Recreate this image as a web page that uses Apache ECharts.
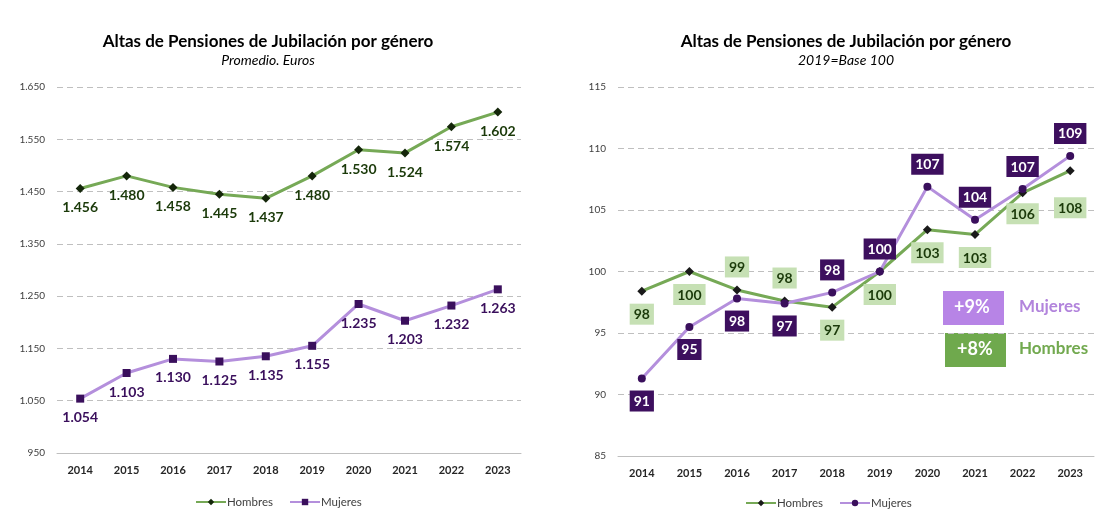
<!DOCTYPE html>
<html>
<head>
<meta charset="utf-8">
<script src="https://cdn.jsdelivr.net/npm/echarts@6/dist/echarts.min.js"></script>
<style>html,body{margin:0;padding:0;background:#fff}#c{width:1114px;height:525px}</style>
</head>
<body>
<div id="c"></div>
<script>
const years = ['2014','2015','2016','2017','2018','2019','2020','2021','2022','2023'];
const hombresEuros = [1456,1480,1458,1445,1437,1480,1530,1524,1574,1602];
const mujeresEuros = [1054,1103,1130,1125,1135,1155,1235,1203,1232,1263];
const hombresIndex = [98.4,100,98.5,97.6,97.1,100,103.4,103.0,106.4,108.2];
const mujeresIndex = [91.3,95.49,97.8,97.4,98.3,100,106.9,104.2,106.7,109.4];
const leftTicks = {min:950, max:1650, step:100};
const rightTicks = {min:85, max:115, step:5};
const titleText = 'Altas de Pensiones de Jubilación por género';
const subLeft = 'Promedio. Euros';
const subRight = '2019=Base 100';

const FONT = 'Lato, "Open Sans", sans-serif';
const GREEN = '#76a956', PURPLE = '#b48fdc';
const GREEN_DARK = '#1b3a0a', PURPLE_DARK = '#3a0f5c';
const fmt = v => String(v).replace(/\B(?=(\d{3})+(?!\d))/g, '.');

// label placement (style config, separate from data)
const hPos = ['bottom','bottom','top','top','bottom','bottom','bottom','bottom','bottom','bottom'];
const hDist = [8,8,8,8,8,8,8,8,6,22];
const mPos = ['bottom','bottom','bottom','bottom','top','top','top','top','top','top'];

const chart = echarts.init(document.getElementById('c'), null, {renderer:'canvas'});

const xAxisCommon = {
  type:'category', boundaryGap:true,
  axisLine:{show:true, lineStyle:{color:'#bfbfbf', width:1}},
  axisTick:{show:false},
  axisLabel:{color:'#262626', fontWeight:'bold', fontSize:11, fontFamily:FONT, margin:12}
};
const yAxisCommon = {
  type:'value',
  axisLine:{show:false}, axisTick:{show:false},
  splitLine:{show:true, lineStyle:{color:'#bfbfbf', type:[6,4], width:1}},
  axisLabel:{color:'#404040', fontSize:10, fontFamily:FONT, margin:12}
};
const titleStyle = {fontSize:17, fontWeight:'bold', color:'#000', fontFamily:FONT};
const subStyle = {fontSize:14, fontStyle:'italic', color:'#000', fontFamily:FONT};

chart.setOption({
  animation:false,
  backgroundColor:'#fff',
  title:[
    {text:titleText, subtext:subLeft, left:263, top:28, textAlign:'center', itemGap:3,
     textStyle:titleStyle, subtextStyle:subStyle},
    {text:titleText, subtext:subRight, left:841, top:28, textAlign:'center', itemGap:3,
     textStyle:titleStyle, subtextStyle:subStyle}
  ],
  legend:[
    {data:['Hombres','Mujeres'], left:190, top:491, itemWidth:30, itemHeight:8, itemGap:16,
     textStyle:{fontSize:11.5, color:'#404040', fontFamily:FONT, padding:[0,0,0,-4]}},
    {data:['Hombres ','Mujeres '], left:740, top:492, itemWidth:30, itemHeight:8, itemGap:16,
     formatter:n=>n.trim(),
     textStyle:{fontSize:11.5, color:'#404040', fontFamily:FONT, padding:[0,0,0,-4]}}
  ],
  grid:[
    {left:57, right:593, top:87, bottom:72},
    {left:618, right:20, top:87, bottom:69}
  ],
  xAxis:[
    Object.assign({gridIndex:0, data:years}, xAxisCommon),
    Object.assign({gridIndex:1, data:years}, xAxisCommon)
  ],
  yAxis:[
    Object.assign({gridIndex:0, min:leftTicks.min, max:leftTicks.max, interval:leftTicks.step}, yAxisCommon,
      {axisLabel:Object.assign({}, yAxisCommon.axisLabel, {formatter:fmt})}),
    Object.assign({gridIndex:1, min:rightTicks.min, max:rightTicks.max, interval:rightTicks.step}, yAxisCommon)
  ],
  series:[
    {name:'Hombres', type:'line', xAxisIndex:0, yAxisIndex:0, data:hombresEuros,
     symbol:'diamond', symbolSize:9, lineStyle:{color:GREEN, width:3},
     itemStyle:{color:'#14260a', borderWidth:0},
     label:{show:true, position:'bottom', distance:8, formatter:p=>fmt(p.value),
       color:GREEN_DARK, fontWeight:'bold', fontSize:14, fontFamily:FONT}},
    {name:'Mujeres', type:'line', xAxisIndex:0, yAxisIndex:0, data:mujeresEuros,
     symbol:'rect', symbolSize:8, lineStyle:{color:PURPLE, width:3},
     itemStyle:{color:PURPLE_DARK, borderWidth:0},
     label:{show:true, position:'bottom', distance:8, formatter:p=>fmt(p.value),
       color:PURPLE_DARK, fontWeight:'bold', fontSize:14, fontFamily:FONT}},
    {name:'Hombres ', type:'line', xAxisIndex:1, yAxisIndex:1,
     data:hombresIndex.map((v,i)=>({value:v, label:{position:hPos[i], distance:hDist[i]}})),
     symbol:'diamond', symbolSize:9, lineStyle:{color:GREEN, width:3},
     itemStyle:{color:'#1a1a1a', borderWidth:0},
     label:{show:true, distance:8, formatter:p=>Math.round(p.value).toString(),
       color:GREEN_DARK, backgroundColor:'#c6e0b4', padding:[4,4,3,4],
       fontWeight:'bold', fontSize:14, fontFamily:FONT}},
    {name:'Mujeres ', type:'line', xAxisIndex:1, yAxisIndex:1,
     data:mujeresIndex.map((v,i)=>({value:v, label:{position:mPos[i]}})),
     symbol:'circle', symbolSize:8, lineStyle:{color:PURPLE, width:3},
     itemStyle:{color:PURPLE_DARK, borderWidth:0},
     label:{show:true, distance:8, formatter:p=>Math.round(p.value).toString(),
       color:'#fff', backgroundColor:'#3d0f5e', padding:[4,4,3,4],
       fontWeight:'bold', fontSize:14, fontFamily:FONT}}
  ],
  graphic:[
    {type:'rect', left:943, top:291, shape:{width:61, height:34}, style:{fill:'#b784e6'}},
    {type:'text', left:954, top:298, style:{text:'+9%', fill:'#fff', font:'bold 18px '+FONT}},
    {type:'text', left:1019, top:298, style:{text:'Mujeres', fill:'#b284dc', font:'bold 17px '+FONT}},
    {type:'rect', left:945, top:333, shape:{width:61, height:34}, style:{fill:'#6fa94d'}},
    {type:'text', left:957, top:340, style:{text:'+8%', fill:'#fff', font:'bold 18px '+FONT}},
    {type:'text', left:1019, top:340, style:{text:'Hombres', fill:'#72a94f', font:'bold 17px '+FONT}}
  ]
});
</script>
</body>
</html>
